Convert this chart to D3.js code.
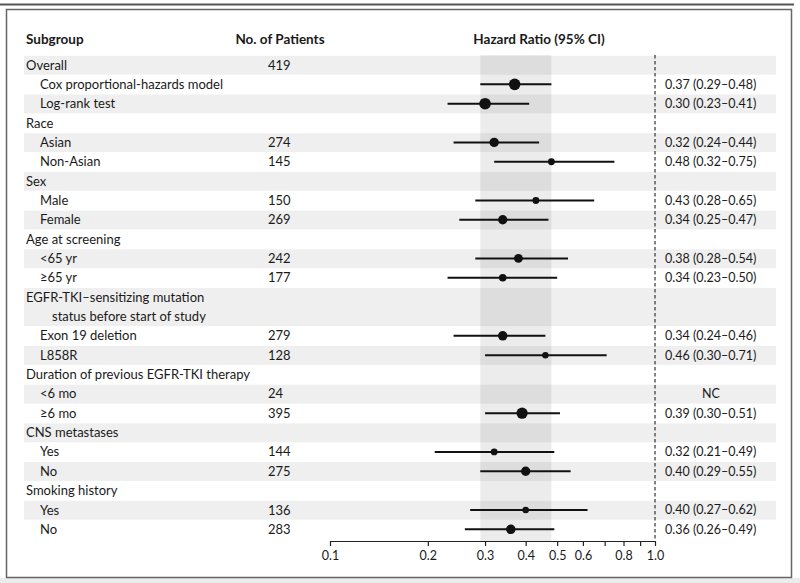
<!DOCTYPE html>
<html>
<head>
<meta charset="utf-8">
<script src="https://cdn.jsdelivr.net/npm/d3@7"></script>
<style>
  html, body { margin: 0; padding: 0; background: #fff; }
  svg { display: block; }
  text { font-family: Lato, "Open Sans", sans-serif; fill: #1a1a1a; }
</style>
</head>
<body>
<script>
// ---- data ----
const labels = [
  "Overall", "Cox proportional-hazards model", "Log-rank test",
  "Race", "Asian", "Non-Asian",
  "Sex", "Male", "Female",
  "Age at screening", "<65 yr", "\u226565 yr",
  "EGFR-TKI\u2013sensitizing mutation|status before start of study", "Exon 19 deletion", "L858R",
  "Duration of previous EGFR-TKI therapy", "<6 mo", "\u22656 mo",
  "CNS metastases", "Yes", "No",
  "Smoking history", "Yes", "No"
];
const levels = [0,1,1, 0,1,1, 0,1,1, 0,1,1, 0,1,1, 0,1,1, 0,1,1, 0,1,1];
const patients = [419,null,null, null,274,145, null,150,269, null,242,177, null,279,128, null,24,395, null,144,275, null,136,283];
const hr   = [null,0.37,0.30, null,0.32,0.48, null,0.43,0.34, null,0.38,0.34, null,0.34,0.46, null,null,0.39, null,0.32,0.40, null,0.40,0.36];
const ciLo = [null,0.29,0.23, null,0.24,0.32, null,0.28,0.25, null,0.28,0.23, null,0.24,0.30, null,null,0.30, null,0.21,0.29, null,0.27,0.26];
const ciHi = [null,0.48,0.41, null,0.44,0.75, null,0.65,0.47, null,0.54,0.50, null,0.46,0.71, null,null,0.51, null,0.49,0.55, null,0.62,0.49];
const hrText = [null,"0.37 (0.29\u20130.48)","0.30 (0.23\u20130.41)", null,"0.32 (0.24\u20130.44)","0.48 (0.32\u20130.75)",
  null,"0.43 (0.28\u20130.65)","0.34 (0.25\u20130.47)", null,"0.38 (0.28\u20130.54)","0.34 (0.23\u20130.50)",
  null,"0.34 (0.24\u20130.46)","0.46 (0.30\u20130.71)", null,"NC","0.39 (0.30\u20130.51)",
  null,"0.32 (0.21\u20130.49)","0.40 (0.29\u20130.55)", null,"0.40 (0.27\u20130.62)","0.36 (0.26\u20130.49)"];
const markerN = [null,419,419, null,274,145, null,150,269, null,242,177, null,279,128, null,24,395, null,144,275, null,136,283];
const tickValues = [0.1,0.2,0.3,0.4,0.5,0.6,0.7,0.8,0.9,1.0];
const tickLabels = ["0.1","0.2","0.3","0.4","0.5","0.6","","0.8","","1.0"];
const bandRange = [0.29, 0.48];

// ---- layout ----
const W = 800, H = 583;
const svg = d3.select("body").append("svg").attr("width", W).attr("height", H);

// frame
svg.append("rect").attr("x", 0).attr("y", 578).attr("width", W).attr("height", 5).attr("fill", "#ececec");
svg.append("line").attr("x1", 0).attr("x2", 794).attr("y1", 4.5).attr("y2", 4.5).attr("stroke", "#555").attr("stroke-width", 2);
svg.append("rect").attr("x", 6.5).attr("y", 9.5).attr("width", 785).attr("height", 568)
  .attr("fill", "none").attr("stroke", "#666").attr("stroke-width", 1.5);

// row units (EGFR row is double)
const units = labels.map(l => l.includes("|") ? 2 : 1);
const starts = [];
let acc = 0;
units.forEach(u => { starts.push(acc); acc += u; });
const y = d3.scaleLinear().domain([0, 24]).range([65, 529.3]);
const unitH = y(1) - y(0);
const rowCenter = i => y(starts[i] + (units[i] - 1) / 2);

const x = d3.scaleLog().domain([0.1, 1.0]).range([330, 655]);
const r = d3.scaleSqrt().domain([0, 419]).range([0, 5.8]);

// stripes
labels.forEach((l, i) => {
  if (i % 2 === 0) {
    svg.append("rect")
      .attr("x", 24).attr("width", 752)
      .attr("y", y(starts[i]) - unitH / 2 + 0.5)
      .attr("height", unitH * units[i] - 0.5)
      .attr("fill", "#efefef");
  }
});

// CI band of overall
svg.append("rect")
  .attr("x", x(bandRange[0])).attr("width", x(bandRange[1]) - x(bandRange[0]))
  .attr("y", 55).attr("height", 541 - 55)
  .attr("fill", "#000").attr("fill-opacity", 0.075);

// reference dashed line at 1.0
svg.append("line").attr("x1", x(1)).attr("x2", x(1)).attr("y1", 55).attr("y2", 541)
  .attr("stroke", "#333").attr("stroke-width", 1.2).attr("stroke-dasharray", "3.5,2.5");

// headers
const hdr = svg.append("g").attr("font-weight", "bold").attr("font-size", 13.5);
hdr.append("text").attr("x", 26).attr("y", 44).text("Subgroup");
hdr.append("text").attr("x", 280).attr("y", 44).attr("text-anchor", "middle").text("No. of Patients");
hdr.append("text").attr("x", 539).attr("y", 44).attr("text-anchor", "middle").text("Hazard Ratio (95% CI)");

// labels
const fs = 13;
labels.forEach((l, i) => {
  const parts = l.split("|");
  const xx = levels[i] === 0 ? 26 : 40;
  parts.forEach((p, j) => {
    svg.append("text")
      .attr("x", j === 0 ? xx : 52)
      .attr("y", y(starts[i] + j))
      .attr("dy", "0.35em")
      .attr("font-size", fs)
      .text(p);
  });
  if (patients[i] != null) {
    svg.append("text").attr("x", 268).attr("y", y(starts[i])).attr("dy", "0.35em")
      .attr("font-size", fs).text(patients[i]);
  }
  if (hrText[i] != null) {
    const nc = hr[i] == null;
    svg.append("text").attr("x", nc ? 711 : 665).attr("y", rowCenter(i)).attr("dy", "0.35em")
      .attr("text-anchor", nc ? "middle" : "start")
      .attr("font-size", 12.5).text(hrText[i]);
  }
});

// CI lines and markers
const g = svg.append("g");
hr.forEach((v, i) => {
  if (v == null) return;
  const cy = rowCenter(i);
  g.append("line").attr("x1", x(ciLo[i])).attr("x2", x(ciHi[i])).attr("y1", cy).attr("y2", cy)
    .attr("stroke", "#111").attr("stroke-width", 2);
  g.append("circle").attr("cx", x(v)).attr("cy", cy).attr("r", r(markerN[i])).attr("fill", "#111");
});

// axis
const axis = d3.axisBottom(x).tickValues(tickValues)
  .tickFormat((d, i) => tickLabels[i]).tickSize(5).tickSizeOuter(0).tickPadding(5);
const ax = svg.append("g").attr("transform", "translate(0,541)").call(axis);
ax.selectAll("path, line").attr("stroke", "#222").attr("stroke-width", 1.2);
ax.selectAll("text").attr("font-size", 12.5).attr("font-family", "Lato, sans-serif").attr("fill", "#1a1a1a");
</script>
</body>
</html>
